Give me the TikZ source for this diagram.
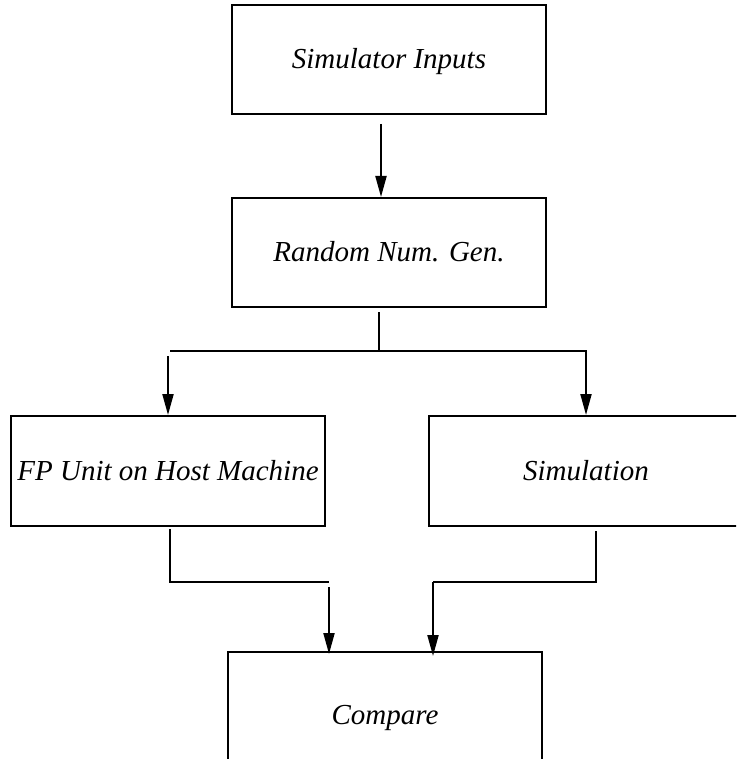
\documentclass[tikz,border=0pt]{standalone}
\usepackage{fontspec}
\setmainfont{Liberation Serif}
\usetikzlibrary{arrows.meta}
\begin{document}
\begin{tikzpicture}[x=1pt,y=-1pt,
  blk/.style={draw,line width=2pt,inner sep=0pt,minimum width=314pt,text height=18pt,text depth=0pt,font=\fontsize{29}{34}\selectfont\itshape},
  ln/.style={line width=2pt},
  arr/.style={ln,-{Triangle[length=21pt,width=11pt]}}]
\useasboundingbox (0,0) rectangle (736,759);
\clip (0,0) rectangle (736,759);
\node[blk,minimum height=109pt] (inp) at (389,59.5) {Simulator Inputs};
\node[blk,minimum height=109pt] (rng) at (389,252.5) {Random Num. Gen.};
\node[blk,minimum height=110pt] (fp) at (168,471) {FP Unit on Host Machine};
\node[blk,minimum height=110pt] (sim) at (586,471) {Simulation};
\node[blk,minimum height=126pt] (cmp) at (385,715) {Compare};
% top arrow
\draw[arr,shorten <=9pt] ([xshift=-8pt]inp.south) -- ([xshift=-8pt]rng.north);
% split
\coordinate (bl) at (170,351);
\coordinate (br) at (587,351);
\draw[ln,shorten <=4pt] ([xshift=-10pt]rng.south) -- ([xshift=-10pt]rng.south |- bl);
\draw[ln] (bl) -- (br);
\draw[arr] ([yshift=-5pt]bl -| fp.north) -- (fp.north);
\draw[arr] (br -| sim.north) -- (sim.north);
% merge
\coordinate (fpj) at (329,582);
\coordinate (simj) at (433,582);
\draw[ln,shorten <=2pt] ([xshift=2pt]fp.south) |- (fpj);
\draw[arr] ([yshift=-5pt]fpj) -- ([yshift=-3pt]fpj |- cmp.north);
\draw[ln,shorten <=4pt] ([xshift=10pt]sim.south) |- (simj);
\draw[arr] (simj) -- ([yshift=-5pt]simj |- cmp.north);
\end{tikzpicture}
\end{document}
